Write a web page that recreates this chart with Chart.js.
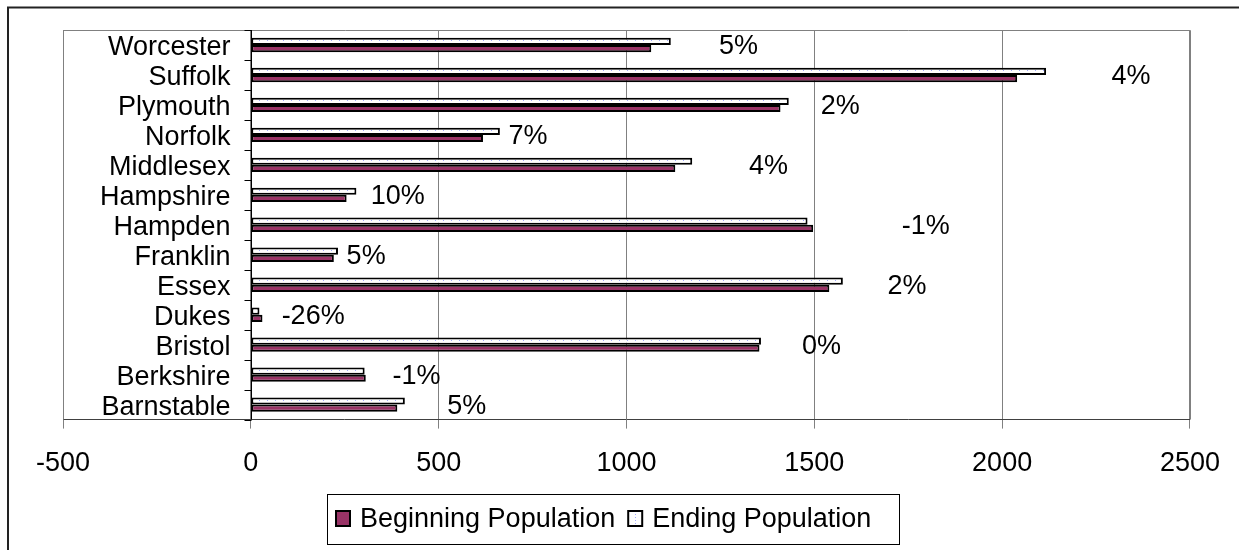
<!DOCTYPE html>
<html>
<head>
<meta charset="utf-8">
<script src="https://cdn.jsdelivr.net/npm/chart.js@4.4.1/dist/chart.umd.min.js"></script>
<style>
    html, body { margin: 0; padding: 0; background: #fff; }
    #wrap { width: 1239px; height: 550px; }
</style>
</head>
<body>
<div id="wrap"><canvas id="myChart" width="1239" height="550"></canvas></div>
<script>
// counties, bottom to top as in the picture
const categories = ['Barnstable', 'Berkshire', 'Bristol', 'Dukes', 'Essex', 'Franklin', 'Hampden',
    'Hampshire', 'Middlesex', 'Norfolk', 'Plymouth', 'Suffolk', 'Worcester'];
const beginningPop = [390, 306, 1354, 31, 1540, 221, 1497, 255, 1130, 618, 1410, 2040, 1066];
const endingPop = [410, 303, 1358, 23, 1576, 232, 1482, 281, 1175, 663, 1432, 2117, 1118];
// where each % change label sits, in axis units
const pctLabelAt = [523, 377, 1467, 82, 1695, 255, 1733, 319, 1326, 686, 1517, 2291, 1246];
const xTicks = [-500, 0, 500, 1000, 1500, 2000, 2500];

const FONT = "'Liberation Sans', Arial, sans-serif";

function dotPattern() {
    const c = document.createElement('canvas');
    c.width = 8;
    c.height = 3;
    const g = c.getContext('2d');
    g.fillStyle = '#ffffff';
    g.fillRect(0, 0, 8, 3);
    g.fillStyle = '#a0a8ff';
    g.fillRect(3, 1, 1, 1);
    return g.createPattern(c, 'repeat');
}

const endFill = dotPattern();

const excelFrame = {
    id: 'excelFrame',
    beforeDraw(chart) {
        const ctx = chart.ctx;
        ctx.save();
        ctx.fillStyle = '#fff';
        ctx.fillRect(0, 0, chart.width, chart.height);
        ctx.restore();
    },
    afterDatasetsDraw(chart) {
        const { ctx, chartArea: a, scales: { x, y } } = chart;
        ctx.save();
        // plot area frame
        ctx.strokeStyle = '#808080';
        ctx.lineWidth = 1;
        ctx.beginPath();
        ctx.moveTo(Math.round(a.left) + 0.5, a.bottom);
        ctx.lineTo(Math.round(a.left) + 0.5, Math.round(a.top) + 0.5);
        ctx.lineTo(Math.round(a.right) + 0.5, Math.round(a.top) + 0.5);
        ctx.lineTo(Math.round(a.right) + 0.5, a.bottom);
        ctx.stroke();

        // value axis crossing at zero, with category ticks
        const x0 = Math.round(x.getPixelForValue(0)) + 0.5;
        ctx.strokeStyle = '#000';
        ctx.beginPath();
        ctx.moveTo(x0, a.top);
        ctx.lineTo(x0, a.bottom);
        for (let i = 0; i <= categories.length; i++) {
            const yy = Math.round(y.getPixelForValue(i - 0.5)) + 0.5;
            ctx.moveTo(x0 - 7, yy);
            ctx.lineTo(x0, yy);
        }
        ctx.stroke();

        ctx.fillStyle = '#000';
        ctx.font = '27px ' + FONT;
        ctx.textBaseline = 'alphabetic';
        categories.forEach((name, i) => {
            const yc = y.getPixelForValue(i);
            ctx.textAlign = 'right';
            ctx.fillText(name, x0 - 21, yc + 10);
            const pct = Math.round((endingPop[i] - beginningPop[i]) / beginningPop[i] * 100);
            ctx.textAlign = 'left';
            ctx.fillText(pct + '%', x.getPixelForValue(pctLabelAt[i]), yc + 9);
        });
        ctx.restore();
    },
    afterDraw(chart) {
        const ctx = chart.ctx;
        ctx.save();
        // outer chart border
        ctx.strokeStyle = '#222';
        ctx.lineWidth = 2;
        ctx.strokeRect(8, 7.5, 1400, 700);

        // legend
        ctx.lineWidth = 1;
        ctx.strokeStyle = '#000';
        ctx.fillStyle = '#fff';
        ctx.fillRect(327.5, 494.5, 572, 50);
        ctx.strokeRect(327.5, 494.5, 572, 50);
        ctx.font = '27px ' + FONT;
        ctx.textAlign = 'left';
        ctx.textBaseline = 'alphabetic';
        const items = [chart.data.datasets[1], chart.data.datasets[0]];
        let lx = 336;
        items.forEach((ds) => {
            ctx.fillStyle = ds.backgroundColor;
            ctx.fillRect(lx, 511, 14, 15);
            ctx.lineWidth = 2;
            ctx.strokeRect(lx, 511, 14, 15);
            ctx.fillStyle = '#000';
            ctx.fillText(ds.label, lx + 24, 527);
            lx += 24 + ctx.measureText(ds.label).width + 13;
        });
        ctx.restore();
    }
};

new Chart(document.getElementById('myChart'), {
    type: 'bar',
    data: {
        labels: categories,
        datasets: [{
            label: 'Ending Population',
            data: endingPop,
            backgroundColor: endFill,
            borderColor: '#000',
            borderWidth: 2,
            borderSkipped: false,
            barPercentage: 1,
            categoryPercentage: 0.48
        }, {
            label: 'Beginning Population',
            data: beginningPop,
            backgroundColor: '#993366',
            borderColor: '#000',
            borderWidth: 2,
            borderSkipped: false,
            barPercentage: 1,
            categoryPercentage: 0.48
        }]
    },
    options: {
        indexAxis: 'y',
        responsive: false,
        animation: false,
        devicePixelRatio: 1,
        layout: {
            padding: { left: 63, top: 30, right: 48, bottom: 51 }
        },
        plugins: {
            legend: { display: false },
            tooltip: { enabled: false }
        },
        scales: {
            x: {
                min: -500,
                max: 2500,
                afterBuildTicks: (scale) => {
                    scale.ticks = xTicks.map((v) => ({ value: v }));
                },
                grid: {
                    color: '#808080',
                    lineWidth: 1,
                    tickLength: 9,
                    tickColor: '#808080'
                },
                border: { display: true, color: '#404040', width: 1 },
                ticks: {
                    color: '#000',
                    font: { family: FONT, size: 27 },
                    padding: 19,
                    maxRotation: 0,
                    autoSkip: false,
                    callback: (v) => String(v)
                }
            },
            y: {
                type: 'category',
                reverse: true,
                display: false,
                offset: true
            }
        }
    },
    plugins: [excelFrame]
});
</script>
</body>
</html>
